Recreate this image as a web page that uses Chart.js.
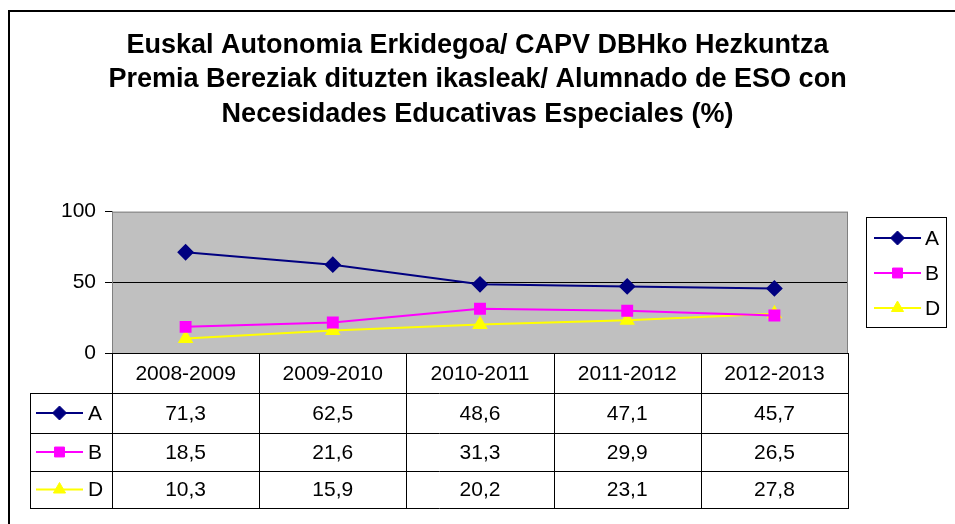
<!DOCTYPE html>
<html>
<head>
<meta charset="utf-8">
<script src="https://cdn.jsdelivr.net/npm/chart.js@4.4.1/dist/chart.umd.min.js"></script>
<style>
    html, body { margin: 0; padding: 0; background: #fff; }
    #marco { width: 955px; height: 524px; }
</style>
</head>
<body>
<div id="marco"><canvas id="grafico" width="955" height="524"></canvas></div>
<script>
const cursos = ['2008-2009', '2009-2010', '2010-2011', '2011-2012', '2012-2013'];
const serieA = [71.3, 62.5, 48.6, 47.1, 45.7];
const serieB = [18.5, 21.6, 31.3, 29.9, 26.5];
const serieD = [10.3, 15.9, 20.2, 23.1, 27.8];
const ticksY = [0, 50, 100];
const titulo = [
    'Euskal Autonomia Erkidegoa/ CAPV DBHko Hezkuntza',
    'Premia Bereziak dituzten ikasleak/ Alumnado de ESO con',
    'Necesidades Educativas Especiales (%)'
];

const fuente = '"Liberation Sans", Arial, sans-serif';
Chart.defaults.font.family = fuente;
Chart.defaults.color = '#000';

const formato = v => v.toFixed(1).replace('.', ',');

function dibujarMarca(ctx, ds, x, y) {
    Chart.helpers.drawPoint(ctx, {
        pointStyle: ds.pointStyle,
        radius: ds.pointRadius,
        rotation: 0,
        borderWidth: 1
    }, x, y);
}

function dibujarClave(ctx, ds, x1, x2, y) {
    ctx.save();
    ctx.strokeStyle = ds.borderColor;
    ctx.lineWidth = 2;
    ctx.beginPath();
    ctx.moveTo(x1, y);
    ctx.lineTo(x2, y);
    ctx.stroke();
    ctx.fillStyle = ds.pointBackgroundColor;
    ctx.strokeStyle = ds.pointBorderColor;
    ctx.lineWidth = 1;
    dibujarMarca(ctx, ds, (x1 + x2) / 2, y);
    ctx.restore();
}

const tablaPlugin = {
    id: 'tablaDatos',
    beforeDraw(chart) {
        const { ctx, chartArea: a } = chart;
        ctx.save();
        ctx.fillStyle = '#fff';
        ctx.fillRect(0, 0, chart.width, chart.height);
        ctx.strokeStyle = '#000';
        ctx.lineWidth = 2;
        ctx.strokeRect(9, 11, 1000, 1000);
        ctx.fillStyle = '#c0c0c0';
        ctx.fillRect(a.left, a.top, a.right - a.left, a.bottom - a.top);
        ctx.restore();
    },
    beforeDatasetsDraw(chart) {
        const { ctx, chartArea: a } = chart;
        ctx.save();
        ctx.strokeStyle = '#808080';
        ctx.lineWidth = 1;
        ctx.strokeRect(a.left + 0.5, a.top + 0.5, a.right - a.left - 1, a.bottom - a.top);
        ctx.strokeStyle = '#000';
        ctx.beginPath();
        ctx.moveTo(a.left, a.bottom + 0.5);
        ctx.lineTo(a.right, a.bottom + 0.5);
        ctx.stroke();
        ctx.restore();
    },
    afterDraw(chart) {
        const { ctx, chartArea: a } = chart;
        const x = chart.scales.x;
        const datasets = chart.data.datasets;
        const altos = [40, 40, 38, 37];
        const tops = [a.bottom];
        altos.forEach((h, i) => tops.push(tops[i] + h));
        const fondo = tops[tops.length - 1];
        const izq = 30;
        const anchoCol = (a.right - a.left) / cursos.length;

        ctx.save();
        ctx.strokeStyle = '#000';
        ctx.lineWidth = 1;
        ctx.beginPath();
        for (let i = 0; i <= cursos.length; i++) {
            const px = Math.round(a.left + i * anchoCol) + 0.5;
            ctx.moveTo(px, a.bottom);
            ctx.lineTo(px, fondo);
        }
        ctx.moveTo(izq + 0.5, tops[1]);
        ctx.lineTo(izq + 0.5, fondo);
        for (let r = 1; r < tops.length; r++) {
            ctx.moveTo(izq, tops[r] + 0.5);
            ctx.lineTo(a.right + 1, tops[r] + 0.5);
        }
        ctx.stroke();

        ctx.fillStyle = '#000';
        ctx.font = '21px ' + fuente;
        ctx.textAlign = 'center';
        ctx.textBaseline = 'middle';
        cursos.forEach((c, i) => {
            ctx.fillText(c, x.getPixelForValue(i), tops[0] + altos[0] / 2 + 1);
        });
        datasets.forEach((ds, r) => {
            const yc = tops[r + 1] + altos[r + 1] / 2 + 1;
            ds.data.forEach((v, i) => {
                ctx.fillText(formato(v), x.getPixelForValue(i), yc);
            });
            dibujarClave(ctx, ds, izq + 6, izq + 53, yc - 1);
            ctx.fillStyle = '#000';
            ctx.textAlign = 'left';
            ctx.fillText(ds.label, izq + 58, yc);
            ctx.textAlign = 'center';
        });

        // leyenda
        const lx = 866, ly = 217, lw = 80, lh = 110;
        ctx.strokeStyle = '#000';
        ctx.lineWidth = 1;
        ctx.strokeRect(lx + 0.5, ly + 0.5, lw, lh);
        datasets.forEach((ds, i) => {
            const yc = ly + 21 + i * 35;
            dibujarClave(ctx, ds, lx + 8, lx + 55, yc);
            ctx.fillStyle = '#000';
            ctx.textAlign = 'left';
            ctx.fillText(ds.label, lx + 59, yc + 1);
        });
        ctx.restore();
    }
};

new Chart(document.getElementById('grafico'), {
    type: 'line',
    data: {
        labels: cursos,
        datasets: [
            {
                label: 'A',
                data: serieA,
                borderColor: '#000080',
                pointBackgroundColor: '#000080',
                pointBorderColor: '#000080',
                pointStyle: 'rectRot',
                pointRadius: 7,
                borderWidth: 2,
                tension: 0
            },
            {
                label: 'B',
                data: serieB,
                borderColor: '#ff00ff',
                pointBackgroundColor: '#ff00ff',
                pointBorderColor: '#ff00ff',
                pointStyle: 'rect',
                pointRadius: 7,
                borderWidth: 2,
                tension: 0
            },
            {
                label: 'D',
                data: serieD,
                borderColor: '#ffff00',
                pointBackgroundColor: '#ffff00',
                pointBorderColor: '#ffff00',
                pointStyle: 'triangle',
                pointRadius: 7,
                borderWidth: 2,
                tension: 0
            }
        ]
    },
    options: {
        responsive: false,
        animation: false,
        layout: { padding: { left: 0, right: 0, top: 0, bottom: 171 } },
        plugins: {
            legend: { display: false },
            tooltip: { enabled: false },
            title: {
                display: true,
                text: titulo,
                color: '#000',
                font: { size: 27, weight: 'bold', family: fuente, lineHeight: 1.28 },
                padding: { top: 28, bottom: 80 }
            }
        },
        scales: {
            x: {
                display: false,
                offset: true
            },
            y: {
                min: 0,
                max: 100,
                afterBuildTicks: scale => { scale.ticks = ticksY.map(v => ({ value: v })); },
                afterFit: scale => { scale.width = 112; },
                ticks: { color: '#000', font: { size: 21 }, padding: 9 },
                grid: {
                    color: c => (c.tick && c.tick.value === 50 ? '#000' : 'rgba(0,0,0,0)'),
                    tickColor: '#000',
                    tickLength: 7,
                    lineWidth: 1
                },
                border: { display: true, color: '#808080' }
            },
            y2: {
                position: 'right',
                display: true,
                afterFit: scale => { scale.width = 107; },
                ticks: { display: false },
                grid: { display: false },
                border: { display: false }
            }
        }
    },
    plugins: [tablaPlugin]
});
</script>
</body>
</html>
